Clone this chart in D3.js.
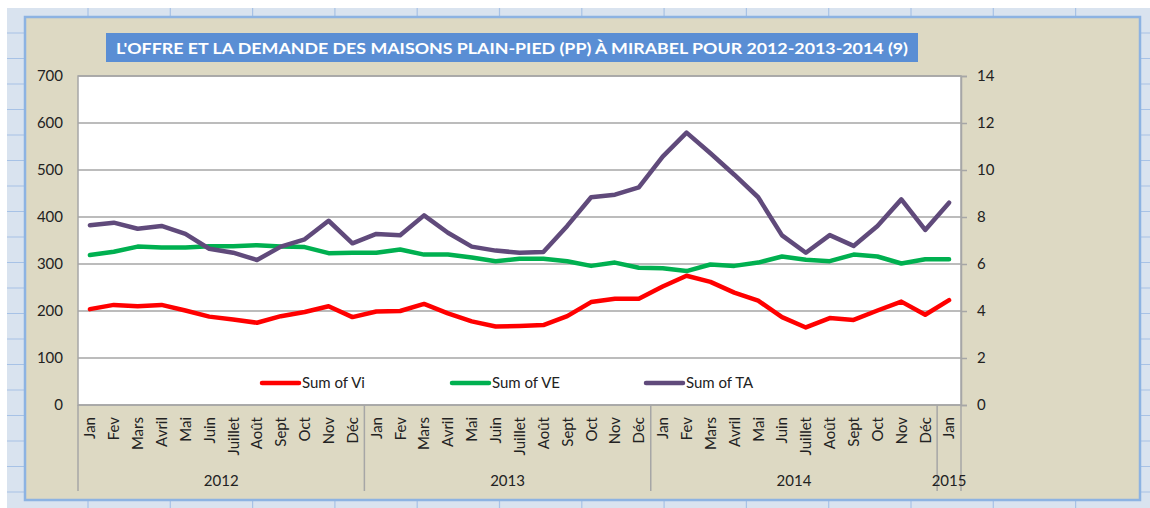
<!DOCTYPE html>
<html>
<head>
<meta charset="utf-8">
<script src="https://cdn.jsdelivr.net/npm/d3@7"></script>
<style>
  body { margin: 0; background: #fff; }
  svg { display: block; font-family: Lato, "Open Sans", sans-serif; }
</style>
</head>
<body>
<div id="vis"></div>
<script>
// month labels and year groups
const months = ["Jan", "Fev", "Mars", "Avril", "Mai", "Juin", "Juillet", "Août", "Sept", "Oct", "Nov", "Déc",
  "Jan", "Fev", "Mars", "Avril", "Mai", "Juin", "Juillet", "Août", "Sept", "Oct", "Nov", "Déc",
  "Jan", "Fev", "Mars", "Avril", "Mai", "Juin", "Juillet", "Août", "Sept", "Oct", "Nov", "Déc",
  "Jan"];
const years = ["2012", "2013", "2014", "2015"];
const yearStart = [0, 12, 24, 36];
const yearEnd = [12, 24, 36, 37];

// series (Vi and VE on left axis, TA on right axis)
const sumVi = [204, 213, 210, 213, 201, 188, 182, 175, 189, 198, 210, 187,
  199, 200, 215, 195, 178, 167, 168, 170, 189, 219, 226, 226,
  252, 275, 262, 239, 222, 187, 165, 185, 181, 201, 220, 192,
  223];
const sumVE = [319, 326, 337, 335, 335, 338, 338, 340, 337, 336, 323, 324,
  324, 331, 320, 320, 314, 306, 311, 311, 306, 296, 303, 292,
  291, 285, 299, 296, 303, 316, 309, 306, 320, 316, 301, 310,
  310];
const sumTA = [7.65, 7.76, 7.5, 7.62, 7.28, 6.65, 6.48, 6.17, 6.74, 7.05, 7.84, 6.88,
  7.28, 7.22, 8.07, 7.33, 6.74, 6.57, 6.48, 6.51, 7.62, 8.84, 8.95, 9.26,
  10.57, 11.59, 10.71, 9.8, 8.84, 7.22, 6.48, 7.23, 6.77, 7.62, 8.75, 7.45,
  8.61];

const leftTicks = [0, 100, 200, 300, 400, 500, 600, 700];
const rightTicks = [0, 2, 4, 6, 8, 10, 12, 14];
const legendNames = ["Sum of Vi", "Sum of VE", "Sum of TA"];
const colors = ["#ff0000", "#00b050", "#604a7b"];

const W = 1150, H = 508;
let svg = d3.select("#vis").append("svg").attr("width", W).attr("height", H);

// spreadsheet behind the chart
svg.append("rect").attr("x", 7).attr("y", 8).attr("width", W - 7).attr("height", H - 8).attr("fill", "#d9e3ef");
let gridG = svg.append("g").attr("stroke", "#a7c2e6").attr("stroke-width", 1.2);
for (let y = 33; y < H; y += 25.5) gridG.append("line").attr("x1", 7).attr("x2", W).attr("y1", y).attr("y2", y);
for (let x = 88; x < W; x += 82.3) gridG.append("line").attr("x1", x).attr("x2", x).attr("y1", 8).attr("y2", H);

// chart area
svg.append("rect").attr("x", 25).attr("y", 17).attr("width", 1115).attr("height", 483)
  .attr("fill", "#ddd9c3").attr("stroke", "#8db3e2").attr("stroke-width", 2.5);

// title
svg.append("rect").attr("x", 106).attr("y", 33).attr("width", 812).attr("height", 29).attr("fill", "#5a8ed4");
svg.append("text").attr("x", 116).attr("y", 53.5)
  .attr("fill", "#fff").attr("font-weight", "bold").attr("font-size", 16)
  .attr("textLength", 792).attr("lengthAdjust", "spacingAndGlyphs")
  .text("L'OFFRE ET LA DEMANDE DES MAISONS PLAIN-PIED (PP) À MIRABEL POUR 2012-2013-2014 (9)");

// scales
const plotL = 78, plotR = 961, plotT = 76, plotB = 405;
let x = d3.scaleBand().domain(d3.range(months.length)).range([plotL, plotR]).padding(0);
let cx = (i) => x(i) + x.bandwidth() / 2;
let yL = d3.scaleLinear().domain([0, 700]).range([plotB, plotT]);
let yR = d3.scaleLinear().domain([0, 14]).range([plotB, plotT]);

// plot area
svg.append("rect").attr("x", plotL).attr("y", plotT).attr("width", plotR - plotL).attr("height", plotB - plotT)
  .attr("fill", "#fff").attr("stroke", "#a6a6a6").attr("stroke-width", 1.5);

// gridlines
svg.append("g").selectAll("line").data(leftTicks.slice(1)).enter().append("line")
  .attr("x1", plotL).attr("x2", plotR)
  .attr("y1", (d) => yL(d)).attr("y2", (d) => yL(d))
  .attr("stroke", "#a6a6a6").attr("stroke-width", 1.5);

// left axis
let axL = svg.append("g").attr("transform", "translate(" + plotL + ",0)")
  .call(d3.axisLeft(yL).tickValues(leftTicks).tickSize(0).tickPadding(15));
axL.select(".domain").remove();
axL.selectAll("text").attr("font-size", 15).attr("fill", "#222").attr("font-family", "Lato, sans-serif");

// right axis
let axR = svg.append("g").attr("transform", "translate(" + plotR + ",0)")
  .call(d3.axisRight(yR).tickValues(rightTicks).tickSize(6).tickPadding(10));
axR.select(".domain").attr("stroke", "#a6a6a6").attr("stroke-width", 1.5);
axR.selectAll("line").attr("stroke", "#a6a6a6").attr("stroke-width", 1.5);
axR.selectAll("text").attr("font-size", 15).attr("fill", "#222").attr("font-family", "Lato, sans-serif");

// category axis: month labels
svg.append("line").attr("x1", plotL).attr("x2", plotR).attr("y1", plotB).attr("y2", plotB)
  .attr("stroke", "#a6a6a6").attr("stroke-width", 1.5);
svg.append("g").selectAll("text").data(months).enter().append("text")
  .attr("transform", (d, i) => "translate(" + cx(i) + ",417) rotate(-90)")
  .attr("text-anchor", "end").attr("dy", "0.36em")
  .attr("font-size", 15).attr("fill", "#222")
  .text((d) => d);

// year groups
let sepX = [0, 12, 24, 36].map((i) => x(i)).concat([plotR]);
svg.append("g").selectAll("line").data(sepX).enter().append("line")
  .attr("x1", (d) => d).attr("x2", (d) => d).attr("y1", plotB).attr("y2", 491)
  .attr("stroke", "#a6a6a6").attr("stroke-width", 1.5);
svg.append("g").selectAll("text").data(years).enter().append("text")
  .attr("x", (d, i) => (x(yearStart[i]) + (yearEnd[i] < months.length ? x(yearEnd[i]) : plotR)) / 2)
  .attr("y", 486).attr("text-anchor", "middle")
  .attr("font-size", 15).attr("fill", "#222")
  .text((d) => d);

// lines
let lineL = d3.line().x((d, i) => cx(i)).y((d) => yL(d));
let lineR = d3.line().x((d, i) => cx(i)).y((d) => yR(d));
[[sumVi, lineL], [sumVE, lineL], [sumTA, lineR]].forEach((s, k) => {
  svg.append("path").datum(s[0]).attr("d", s[1])
    .attr("fill", "none").attr("stroke", colors[k]).attr("stroke-width", 4.5)
    .attr("stroke-linejoin", "round").attr("stroke-linecap", "round");
});

// legend
const legX = [262, 452, 646];
legendNames.forEach((name, k) => {
  svg.append("line").attr("x1", legX[k]).attr("x2", legX[k] + 37).attr("y1", 383).attr("y2", 383)
    .attr("stroke", colors[k]).attr("stroke-width", 4.5).attr("stroke-linecap", "round");
  svg.append("text").attr("x", legX[k] + 40).attr("y", 388)
    .attr("font-size", 15).attr("fill", "#222").text(name);
});
</script>
</body>
</html>
